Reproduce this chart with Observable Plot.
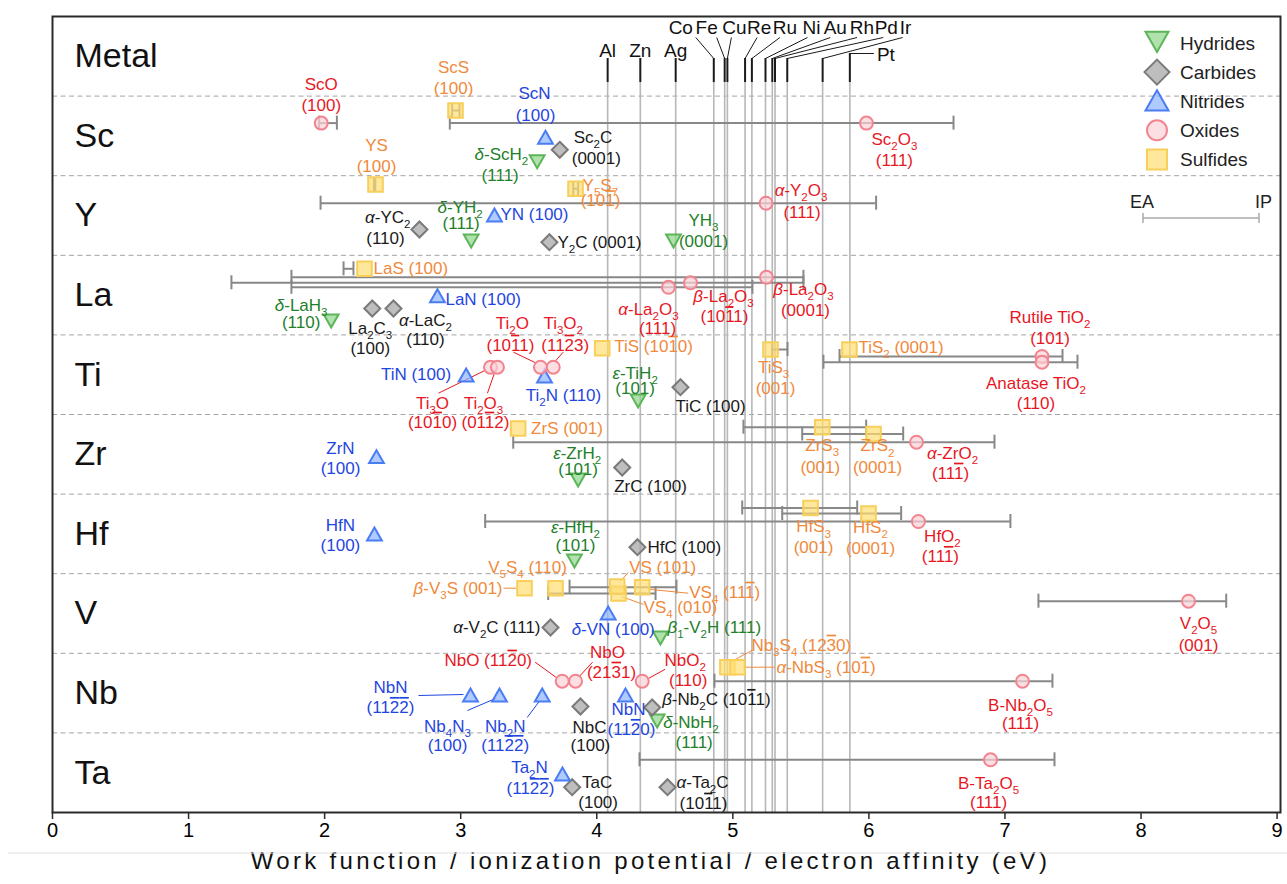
<!DOCTYPE html>
<html>
<head>
<meta charset="utf-8">
<script src="https://cdn.jsdelivr.net/npm/d3@7"></script>
<script src="https://cdn.jsdelivr.net/npm/@observablehq/plot@0.6"></script>
<style>
  body { margin: 0; background: #fff; font-family: "Liberation Sans", Arial, sans-serif; }
  #chart { width: 1287px; height: 884px; }
</style>
</head>
<body>
<div id="chart"></div>
<script>
// ---------- rows and classes ----------
const rows = ["Metal", "Sc", "Y", "La", "Ti", "Zr", "Hf", "V", "Nb", "Ta"];
const kinds = ["Hydrides", "Carbides", "Nitrides", "Oxides", "Sulfides"];

// ---------- metal work functions (eV) ----------
const metalNames = ["Al", "Zn", "Ag", "Co", "Fe", "Cu", "Re", "Ru", "Ni", "Au", "Rh", "Pd", "Ir", "Pt"];
const metalWF = [4.08, 4.32, 4.58, 4.86, 4.94, 4.96, 5.09, 5.14, 5.24, 5.29, 5.31, 5.40, 5.66, 5.86];

// ---------- compounds: [formula, facet, class, work function, EA, IP] (eV) ----------
// markup: _n = subscript digit, !n = overbarred digit
const scRow = [
  ["ScO", "(100)", "Oxides", 1.975, 1.96, 2.09],
  ["ScS", "(100)", "Sulfides", 2.962, 2.937, 2.991],
  ["ScN", "(100)", "Nitrides", 3.623],
  ["Sc_2C", "(0001)", "Carbides", 3.728],
  ["δ-ScH_2", "(111)", "Hydrides", 3.562],
  ["Sc_2O_3", "(111)", "Oxides", 5.982, 2.920, 6.622]
];
const yRow = [
  ["YS", "(100)", "Sulfides", 2.374, 2.362, 2.372],
  ["Y_5S_7", "(10!1)", "Sulfides", 3.844, 3.827, 3.863],
  ["α-Y_2O_3", "(111)", "Oxides", 5.244, 1.970, 6.053],
  ["α-YC_2", "(110)", "Carbides", 2.697],
  ["δ-YH_2", "(111)", "Hydrides", 3.077],
  ["YN", "(100)", "Nitrides", 3.248],
  ["Y_2C", "(0001)", "Carbides", 3.652],
  ["YH_3", "(0001)", "Hydrides", 4.564]
];
const laRow = [
  ["LaS", "(100)", "Sulfides", 2.293, 2.139, 2.212],
  ["LaN", "(100)", "Nitrides", 2.829],
  ["La_2C_3", "(100)", "Carbides", 2.350],
  ["α-LaC_2", "(110)", "Carbides", 2.506],
  ["δ-LaH_3", "(110)", "Hydrides", 2.048],
  ["α-La_2O_3", "(111)", "Oxides", 4.527, 1.756, 5.144],
  ["β-La_2O_3", "(10!11)", "Oxides", 4.689, 1.315, 5.519],
  ["β-La_2O_3", "(0001)", "Oxides", 5.247, 1.756, 5.519]
];
const tiRow = [
  ["Ti_3O", "(10!10)", "Oxides", 3.219],
  ["Ti_2O_3", "(01!12)", "Oxides", 3.270],
  ["Ti_2O", "(10!11)", "Oxides", 3.586],
  ["Ti_3O_2", "(11!23)", "Oxides", 3.680],
  ["TiN", "(100)", "Nitrides", 3.040],
  ["Ti_2N", "(110)", "Nitrides", 3.616],
  ["TiS", "(10!10)", "Sulfides", 4.040],
  ["ε-TiH_2", "(101)", "Hydrides", 4.304],
  ["TiC", "(100)", "Carbides", 4.615],
  ["TiS_3", "(001)", "Sulfides", 5.277, 5.29, 5.402],
  ["TiS_2", "(0001)", "Sulfides", 5.857],
  ["Rutile TiO_2", "(101)", "Oxides", 7.272, 5.784, 7.423],
  ["Anatase TiO_2", "(110)", "Oxides", 7.272, 5.666, 7.533]
];
const zrRow = [
  ["ZrN", "(100)", "Nitrides", 2.381],
  ["ZrS", "(001)", "Sulfides", 3.422],
  ["ZrS_3", "(001)", "Sulfides", 5.657, 5.078, 5.980],
  ["ZrS_2", "(0001)", "Sulfides", 6.034, 5.510, 6.252],
  ["α-ZrO_2", "(11!1)", "Oxides", 6.350, 3.386, 6.923],
  ["ε-ZrH_2", "(101)", "Hydrides", 3.863],
  ["ZrC", "(100)", "Carbides", 4.187]
];
const hfRow = [
  ["HfN", "(100)", "Nitrides", 2.366],
  ["HfS_3", "(001)", "Sulfides", 5.571, 5.069, 5.914],
  ["HfS_2", "(0001)", "Sulfides", 5.997, 5.363, 6.237],
  ["HfO_2", "(11!1)", "Oxides", 6.364, 3.180, 7.040],
  ["ε-HfH_2", "(101)", "Hydrides", 3.836],
  ["HfC", "(100)", "Carbides", 4.299]
];
const vRow = [
  ["β-V_3S", "(001)", "Sulfides", 3.469],
  ["V_5S_4", "(110)", "Sulfides", 3.697],
  ["VS_4", "(010)", "Sulfides", 4.160, 3.643, 4.432],
  ["VS", "(101)", "Sulfides", 4.150],
  ["VS_4", "(11!1)", "Sulfides", 4.334, 3.800, 4.586],
  ["α-V_2C", "(111)", "Carbides", 3.660],
  ["δ-VN", "(100)", "Nitrides", 4.084],
  ["β_1-V_2H", "(111)", "Hydrides", 4.468],
  ["V_2O_5", "(001)", "Oxides", 8.349, 7.246, 8.626]
];
const nbRow = [
  ["NbO", "(11!20)", "Oxides", 3.746],
  ["NbO", "(21!31)", "Oxides", 3.844],
  ["NbO_2", "(110)", "Oxides", 4.334],
  ["NbN", "(11!2!2)", "Nitrides", 3.072],
  ["Nb_4N_3", "(100)", "Nitrides", 3.285],
  ["Nb_2N", "(11!2!2)", "Nitrides", 3.599],
  ["NbC", "(100)", "Carbides", 3.880],
  ["NbN", "(11!20)", "Nitrides", 4.211],
  ["β-Nb_2C", "(10!11)", "Carbides", 4.407],
  ["δ-NbH_2", "(111)", "Hydrides", 4.444],
  ["Nb_3S_4", "(12!30)", "Sulfides", 4.960],
  ["α-NbS_3", "(10!1)", "Sulfides", 5.034],
  ["B-Nb_2O_5", "(111)", "Oxides", 7.129, 4.865, 7.349]
];
const taRow = [
  ["Ta_2N", "(11!2!2)", "Nitrides", 3.748],
  ["TaC", "(100)", "Carbides", 3.819],
  ["α-Ta_2C", "(10!11)", "Carbides", 4.520],
  ["B-Ta_2O_5", "(111)", "Oxides", 6.894, 4.314, 7.364]
];

// ---------- placement: [lane px below row top, name [dx, dy, anchor], facet [dx, dy, anchor] | null, leader [x1, y1, x2, y2]] ----------
const scPlace = [
  [27, [0, -39], [0, -18]],
  [14.4, [-2, -43], [-2, -22]],
  [41.7, [-11, -44], [-10, -22]],
  [53.7, [14, -12, "start"], [12, 9, "start"]],
  [65, [-9, -7, "end"], [-37, 14]],
  [27, [28, 16], [28, 37]]
];
const yPlace = [
  [8.8, [1, -39], [1, -18]],
  [13, [7, -3, "start"], [25, 12]],
  [27.5, [35, -13], [36, 9]],
  [53.8, [-9, -12, "end"], [-34, 9]],
  [64.8, [-11, -33], [-10, -17]],
  [39.8, [6, -1, "start"]],
  [66.5, [8, 0, "start"]],
  [64.8, [30, -20], [30, 1]]
];
const laPlace = [
  [13.5, [9, 0, "start"]],
  [41, [8, 3, "start"]],
  [53.2, [-2, 20], [-2, 40]],
  [53.2, [32, 12], [32, 31]],
  [65.2, [-30, -15], [-30, 2]],
  [32, [-20, 22], [-11, 41]],
  [27.5, [33, 14], [34, 34]],
  [22, [37, 12], [39, 33]]
];
const tiPlace = [
  [32.3, [-58, 36], [-58, 55], [-52, 26, -5, 3]],
  [32.3, [-14, 36], [-12, 55], [-10, 26, -3, 6]],
  [32.3, [-28, -44], [-30, -22], [-27, -15, -4, -4]],
  [32.3, [10, -44], [12, -22], [10, -15, 2, -6]],
  [40.6, [-15, -1, "end"]],
  [41.6, [19, 19]],
  [13.3, [12, -2, "start"]],
  [65.6, [-3, -27], [-3, -12]],
  [52.3, [-5, 19, "start"]],
  [14.6, [3, 18], [5, 39]],
  [14.6, [9, -2, "start"]],
  [21.6, [8, -39], [8, -18]],
  [27.3, [-6, 21], [-6, 41]]
];
const zrPlace = [
  [42.7, [-36, -9], [-36, 11]],
  [14, [13, 0, "start"]],
  [12.7, [0, 18], [-2, 40]],
  [19.5, [4, 12], [4, 34]],
  [27.7, [36, 11], [34, 31]],
  [65, [-1, -26], [0, -10]],
  [53, [-8, 19, "start"]]
];
const hfPlace = [
  [40.4, [-34, -9], [-34, 11]],
  [13.9, [3, 19], [3, 40]],
  [19.4, [2, 14], [2, 35]],
  [27.4, [24, 15], [22, 35]],
  [66.4, [1, -33], [1, -15]],
  [53.1, [10, 0, "start"]]
];
const vPlace = [
  [14.5, [-22, 0, "end"], null, [-21, 0, -8, 0]],
  [14.5, [-28, -21]],
  [19.8, [25, 14, "start"], null, [3, 3, 25, 11]],
  [12.8, [12, -19, "start"], null, [11, -14, 3, -5]],
  [13.5, [47, 5, "start"], null, [6, 2, 46, 6]],
  [53.8, [-10, 0, "end"]],
  [39.8, [5, 16]],
  [63.8, [7, -10, "start"]],
  [27.5, [10, 22], [10, 44]]
];
const nbPlace = [
  [27.9, [-74, -21], null, [-27, -19, -5, -3]],
  [27.9, [32, -29], [36, -9], [17, -19, 4, -5]],
  [27.9, [43, -21], [46, -1], [23, -12, 5, -2]],
  [42.2, [-80, -8], [-80, 12], [-52, 0, -7, -1]],
  [42.2, [-52, 31], [-52, 50], [-32, 15, -4, 3]],
  [42.2, [-37, 31], [-37, 50], [-15, 22, -3, 6]],
  [53.2, [9, 21], [10, 39]],
  [42.2, [3, 14], [6, 34]],
  [54.2, [10, -8, "start"]],
  [67.2, [6, 2, "start"], [37, 22]],
  [13.9, [24, -22, "start"], null, [3, -5, 25, -17]],
  [13.9, [39, 0, "start"], null, [8, 0, 37, 0]],
  [27.9, [-2, 24], [-2, 42]]
];
const taPlace = [
  [41.6, [-33, -7], [-32, 14]],
  [54.3, [25, -5], [26, 15]],
  [54.3, [9, -5, "start"], [36, 16]],
  [26.9, [-2, 24], [-2, 43]]
];
// metal labels: [dx, dy from tick top, leader start [dx, dy] | null, tick top px]
const metalPlace = [
  [0, -8, null, 42], [0, -8, null, 42], [0, -8, null, 42],
  [-33, -31, [-18, -21], 42], [-18, -31, [-8, -21], 42], [7, -31, [4, -21], 42],
  [14, -31, [12, -21], 42], [33, -31, [28, -21], 42], [46, -31, [42, -21], 42],
  [63, -31, [58, -21], 42], [87, -31, [82, -21], 42], [99, -31, [96, -21], 42],
  [83, -31, [80, -21], 42], [36, 1, [24, 0], 37]
];

const title = "Work function / ionization potential / electron affinity (eV)";

// ---------- styles ----------
const textColor = {Hydrides: "#23802a", Carbides: "#1a1a1a", Nitrides: "#1f46e0", Oxides: "#e8171f", Sulfides: "#f08a3c"};
const markStyle = {
  Hydrides: {shape: "triDown", fill: "#8fd68b", stroke: "#5db55a", r: 7.4, lr: 11.5},
  Carbides: {shape: "diamond", fill: "#a3a3a3", stroke: "#7a7a7a", r: 8, lr: 12.5},
  Nitrides: {shape: "triUp", fill: "#8db4ff", stroke: "#4a7cf4", r: 7.4, lr: 11.5},
  Oxides: {shape: "circle", fill: "#fbd2d7", stroke: "#f2848f", r: 6.5, lr: 10},
  Sulfides: {shape: "square", fill: "#ffde72", stroke: "#f8cf5a", r: 7.3, lr: 10}
};
const shapes = {
  triUp: (c, r) => { c.moveTo(0, -0.95 * r); c.lineTo(r, 0.8 * r); c.lineTo(-r, 0.8 * r); c.closePath(); },
  triDown: (c, r) => { c.moveTo(0, 0.95 * r); c.lineTo(r, -0.8 * r); c.lineTo(-r, -0.8 * r); c.closePath(); },
  diamond: (c, r) => { c.moveTo(0, -r); c.lineTo(r, 0); c.lineTo(0, r); c.lineTo(-r, 0); c.closePath(); },
  square: (c, r) => { c.rect(-r, -r, 2 * r, 2 * r); },
  circle: (c, r) => { c.moveTo(r, 0); c.arc(0, 0, r, 0, 2 * Math.PI); }
};
const symbolOf = name => ({draw(ctx, size) { shapes[name](ctx, Math.sqrt(size / Math.PI)); }});

// ---------- geometry ----------
const W = 1287, H = 884, mL = 52, mR = 7, mT = 16, mB = 72, xMax = 9.025;
const kx = (W - mL - mR) / xMax;          // px per eV
const ky = (H - mT - mB) / rows.length;   // px per row

const rowData = [
  ["Sc", scRow, scPlace], ["Y", yRow, yPlace], ["La", laRow, laPlace], ["Ti", tiRow, tiPlace],
  ["Zr", zrRow, zrPlace], ["Hf", hfRow, hfPlace], ["V", vRow, vPlace], ["Nb", nbRow, nbPlace], ["Ta", taRow, taPlace]
];
const items = rowData.flatMap(([row, list, place]) => {
  const r = rows.indexOf(row);
  return list.map((c, j) => {
    const [formula, facet, kind, wf, ea, ip] = c;
    const [lane, nameAt, facetAt, leader] = place[j];
    return {row, formula, facet, kind, wf, ea, ip, y: r + lane / ky, nameAt, facetAt, leader};
  });
});
const labels = items.flatMap(d => {
  const at = (s, text) => ({text, kind: d.kind, x: d.wf + s[0] / kx, y: d.y + s[1] / ky, anchor: s[2] || "middle"});
  return d.facetAt ? [at(d.nameAt, d.formula), at(d.facetAt, d.facet)] : [at(d.nameAt, `${d.formula} ${d.facet}`)];
});
const bars = items.filter(d => d.ea != null);
const caps = bars.flatMap(d => [{x: d.ea, y: d.y}, {x: d.ip, y: d.y}]);
const leaders = items.filter(d => d.leader).map(d => ({
  kind: d.kind,
  x1: d.wf + d.leader[0] / kx, y1: d.y + d.leader[1] / ky,
  x2: d.wf + d.leader[2] / kx, y2: d.y + d.leader[3] / ky
}));
const metals = metalNames.map((name, i) => {
  const [dx, dy, lead, top] = metalPlace[i];
  const wf = metalWF[i];
  return {name, wf, top: top / ky, lx: wf + dx / kx, ly: (top + dy) / ky,
          lead: lead && {x: wf + lead[0] / kx, y: (top + lead[1]) / ky}};
});
const tickEnd = 66 / ky;

const plot = Plot.plot({
  width: W, height: H,
  marginLeft: mL, marginRight: mR, marginTop: mT, marginBottom: mB,
  style: {fontFamily: "Liberation Sans, Arial, sans-serif", background: "#fff", overflow: "visible"},
  x: {domain: [0, xMax]},
  y: {domain: [0, rows.length], reverse: true, axis: null},
  color: {type: "identity"},
  marks: [
    Plot.ruleY(d3.range(1, rows.length), {y: d => d, stroke: "#a3a3a3", strokeDasharray: "5,3.5", strokeWidth: 1}),
    Plot.ruleX(metals, {x: "wf", y1: tickEnd, y2: rows.length, stroke: "#b7b7b7", strokeWidth: 1.6}),
    Plot.ruleX(metals, {x: "wf", y1: "top", y2: tickEnd, stroke: "#1a1a1a", strokeWidth: 2}),
    Plot.link(metals.filter(m => m.lead), {x1: m => m.lead.x, y1: m => m.lead.y, x2: "wf", y2: "top", stroke: "#1a1a1a", strokeWidth: 1}),
    Plot.text(metals, {x: "lx", y: "ly", text: "name", fontSize: 19, fill: "#111"}),
    Plot.ruleY(bars, {y: "y", x1: "ea", x2: "ip", stroke: "#888", strokeWidth: 2}),
    Plot.ruleX(caps, {x: "x", y1: d => d.y - 7 / ky, y2: d => d.y + 7 / ky, stroke: "#888", strokeWidth: 2}),
    Plot.link(leaders, {x1: "x1", y1: "y1", x2: "x2", y2: "y2", stroke: d => textColor[d.kind], strokeWidth: 1}),
    ...kinds.map(k => Plot.dot(items.filter(d => d.kind === k), {
      x: "wf", y: "y", r: markStyle[k].r, symbol: symbolOf(markStyle[k].shape),
      fill: markStyle[k].fill, fillOpacity: 0.7, stroke: markStyle[k].stroke, strokeWidth: 2
    })),
    ...["start", "middle", "end"].map(a => Plot.text(labels.filter(l => l.anchor === a), {
      x: "x", y: "y", text: "text", textAnchor: a, fill: d => textColor[d.kind], fontSize: 17
    })),
    Plot.text(rows, {x: rows.map(() => 0), y: rows.map((d, i) => i + 0.5), dx: 22, text: d => d, textAnchor: "start", fontSize: 34, fill: "#111"}),
    Plot.frame({stroke: "#2a2a2a", strokeWidth: 2}),
    Plot.axisX({ticks: d3.range(0, 10), tickSize: 7, tickPadding: 3, fontSize: 20, label: null, stroke: "#2a2a2a", strokeWidth: 1.5}),
    Plot.text([title], {frameAnchor: "bottom", dx: -16, dy: 56, fontSize: 24, fill: "#111"})
  ]
});

// subscripts, overbars and italic Greek prefixes in the labels
function enrich(el) {
  const src = el.textContent;
  if (src === title) { el.style.letterSpacing = "3.3px"; return; }
  if (!/[_!αβδε]/.test(src)) return;
  const holder = el.closest("[font-size]");
  const fs = holder ? parseFloat(holder.getAttribute("font-size")) : 17;
  const sel = d3.select(el).text(null);
  let base = 0, buf = "";
  const add = (t, o = {}) => {
    const target = o.sub ? 0.3 * fs : 0;
    const sp = sel.append("tspan").text(t);
    if (target !== base) { sp.attr("dy", target - base); base = target; }
    if (o.sub) sp.attr("font-size", 0.68 * fs);
    if (o.bar) sp.style("text-decoration", "overline");
    if (o.ital) sp.attr("font-style", "italic");
  };
  const flush = () => { if (buf) { add(buf); buf = ""; } };
  for (let i = 0; i < src.length; i++) {
    const c = src[i];
    if (c === "_") { flush(); add(src[++i], {sub: true}); }
    else if (c === "!") { flush(); add(src[++i], {bar: true}); }
    else if ("αβδε".includes(c)) { flush(); add(c, {ital: true}); }
    else buf += c;
  }
  flush();
}
d3.select(plot).selectAll("text").each(function () { enrich(this); });

// legend: material classes and the EA–IP bar
const svg = d3.select(plot);
const right = W - mR;
const lg = svg.append("g").attr("font-size", 19).attr("fill", "#222").attr("text-anchor", "start");
kinds.forEach((k, i) => {
  const st = markStyle[k];
  const cy = mT + 27 + i * 29.1;
  const p = d3.path();
  shapes[st.shape](p, st.lr);
  lg.append("path").attr("d", p.toString())
    .attr("transform", `translate(${right - 123},${cy - (st.shape === "triDown" ? 2 : 0)})`)
    .attr("fill", st.fill).attr("fill-opacity", 0.7).attr("stroke", st.stroke).attr("stroke-width", 2);
  lg.append("text").attr("x", right - 100).attr("y", cy).attr("dy", "0.35em").text(k);
});
const eaG = svg.append("g").attr("font-size", 18).attr("fill", "#222").attr("text-anchor", "start");
eaG.append("text").attr("x", right - 150).attr("y", mT + 186).attr("dy", "0.35em").text("EA");
eaG.append("text").attr("x", right - 8).attr("y", mT + 186).attr("dy", "0.35em").attr("text-anchor", "end").text("IP");
const barY = mT + 202;
eaG.append("line").attr("x1", right - 137).attr("x2", right - 21).attr("y1", barY).attr("y2", barY).attr("stroke", "#aaa").attr("stroke-width", 1.5);
[right - 137, right - 21].forEach(x => eaG.append("line").attr("x1", x).attr("x2", x).attr("y1", barY - 5).attr("y2", barY + 5).attr("stroke", "#aaa").attr("stroke-width", 1.5));
svg.append("line").attr("x1", 8).attr("x2", W).attr("y1", 853).attr("y2", 853).attr("stroke", "#e2e2e2").attr("stroke-width", 1);

document.getElementById("chart").appendChild(plot);
</script>
</body>
</html>
